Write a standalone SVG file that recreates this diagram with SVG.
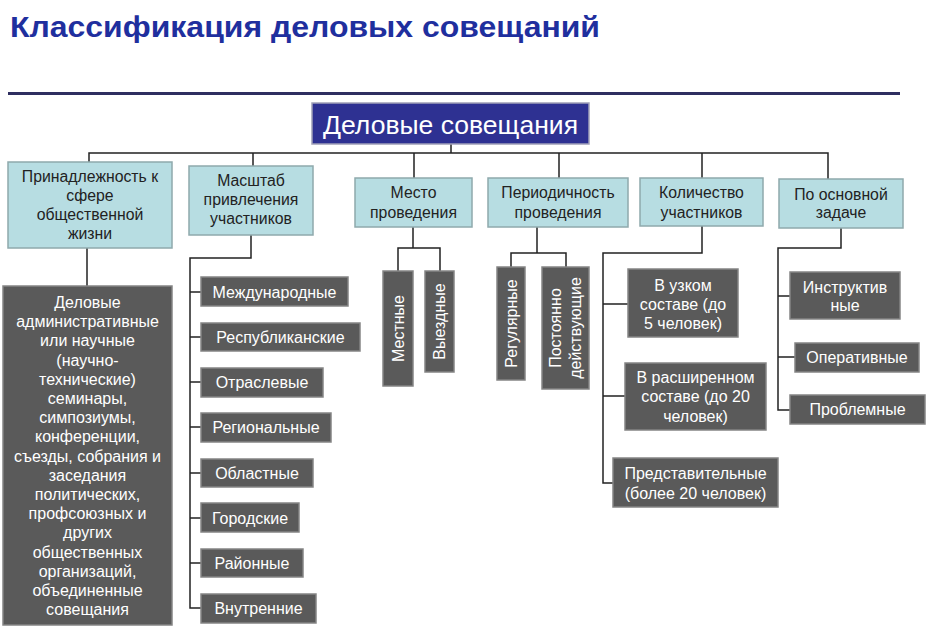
<svg xmlns="http://www.w3.org/2000/svg" width="932" height="636" viewBox="0 0 932 636">
<style>
text{font-family:"Liberation Sans",Arial,sans-serif;}
.title{font-size:30px;font-weight:bold;fill:#1f2f9e;}
.cat rect{fill:#b7dde2;stroke:#8fa9ac;stroke-width:1.5;}
.cat text{font-size:15.8px;fill:#222;text-anchor:middle;}
.item rect{fill:#5a5a5a;stroke:#858585;stroke-width:1.5;}
.item text{font-size:16px;fill:#fff;text-anchor:middle;}
.root rect{fill:#2e3192;stroke:#a0a0b8;stroke-width:1.5;}
.root text{font-size:26px;fill:#fff;text-anchor:middle;}
.conn path{fill:none;stroke:#222;stroke-width:1.5;}
</style>
<rect width="932" height="636" fill="#fff"/>
<text class="title" x="10" y="37" textLength="590" lengthAdjust="spacingAndGlyphs">Классификация деловых совещаний</text>
<rect x="8" y="92" width="892" height="3" fill="#2e2e60"/>

<g class="conn">
<path d="M451 144V153M89 162V153H828V179M253 153V166M414 153V178M559 153V178M702 153V178"/>
<path d="M87 248V286"/>
<path d="M251 235V258H190V608H201M190 292H201M190 337H201M190 382H201M190 427H201M190 473H201M190 518H201M190 563H201"/>
<path d="M413 227V248M398 271V248H440V271"/>
<path d="M537 227V253M511 267V253H566V267"/>
<path d="M702 226V253H603V483H613M603 304H628M603 396H625"/>
<path d="M841 228V248H778V410H790M778 296H790M778 357H795"/>
</g>

<g id="root" class="root">
<rect x="312" y="103" width="277" height="41"/>
<text x="450.5" y="134" textLength="255" lengthAdjust="spacingAndGlyphs">Деловые совещания</text>
</g>

<g id="cat1" class="cat">
<rect x="8" y="162" width="164" height="86"/>
<text x="90" y="182">Принадлежность к</text>
<text x="90" y="201">сфере</text>
<text x="90" y="220">общественной</text>
<text x="90" y="239">жизни</text>
</g>
<g id="cat2" class="cat">
<rect x="189" y="166" width="124" height="69"/>
<text x="251" y="186">Масштаб</text>
<text x="251" y="205">привлечения</text>
<text x="251" y="224">участников</text>
</g>
<g id="cat3" class="cat">
<rect x="355" y="178" width="117" height="49"/>
<text x="413.5" y="198">Место</text>
<text x="413.5" y="218">проведения</text>
</g>
<g id="cat4" class="cat">
<rect x="488" y="178" width="140" height="49"/>
<text x="558" y="198">Периодичность</text>
<text x="558" y="218">проведения</text>
</g>
<g id="cat5" class="cat">
<rect x="640" y="178" width="123" height="48"/>
<text x="701.5" y="198">Количество</text>
<text x="701.5" y="218">участников</text>
</g>
<g id="cat6" class="cat">
<rect x="779" y="179" width="124" height="49"/>
<text x="841" y="200">По основной</text>
<text x="841" y="218">задаче</text>
</g>

<g id="sphere" class="item">
<rect x="3" y="286" width="169" height="339"/>
<text x="87.5" y="308">Деловые</text>
<text x="87.5" y="327.2">административные</text>
<text x="87.5" y="346.4">или научные</text>
<text x="87.5" y="365.6">(научно-</text>
<text x="87.5" y="384.8">технические)</text>
<text x="87.5" y="404">семинары,</text>
<text x="87.5" y="423.2">симпозиумы,</text>
<text x="87.5" y="442.4">конференции,</text>
<text x="87.5" y="461.6">съезды, собрания и</text>
<text x="87.5" y="480.8">заседания</text>
<text x="87.5" y="500">политических,</text>
<text x="87.5" y="519.2">профсоюзных и</text>
<text x="87.5" y="538.4">других</text>
<text x="87.5" y="557.6">общественных</text>
<text x="87.5" y="576.8">организаций,</text>
<text x="87.5" y="596">объединенные</text>
<text x="87.5" y="615.2">совещания</text>
</g>

<g id="scale1" class="item"><rect x="201" y="277" width="147" height="29"/><text x="274.5" y="297.5">Международные</text></g>
<g id="scale2" class="item"><rect x="201" y="323" width="159" height="28"/><text x="280.5" y="342.5">Республиканские</text></g>
<g id="scale3" class="item"><rect x="201" y="368" width="122" height="29"/><text x="262" y="387.5">Отраслевые</text></g>
<g id="scale4" class="item"><rect x="201" y="413" width="130" height="29"/><text x="266" y="432.5">Региональные</text></g>
<g id="scale5" class="item"><rect x="201" y="459" width="112" height="28"/><text x="257" y="478.5">Областные</text></g>
<g id="scale6" class="item"><rect x="201" y="503" width="98" height="29"/><text x="250" y="523.5">Городские</text></g>
<g id="scale7" class="item"><rect x="201" y="549" width="102" height="28"/><text x="252" y="568.5">Районные</text></g>
<g id="scale8" class="item"><rect x="201" y="594" width="115" height="29"/><text x="258.5" y="613.5">Внутренние</text></g>

<g id="place1" class="item"><rect x="383" y="271" width="30" height="115"/><text transform="translate(398,328.5) rotate(-90)" x="0" y="5.5">Местные</text></g>
<g id="place2" class="item"><rect x="425" y="271" width="29" height="101"/><text transform="translate(439.5,321.5) rotate(-90)" x="0" y="5.5">Выездные</text></g>

<g id="period1" class="item"><rect x="497" y="267" width="28" height="113"/><text transform="translate(511,323.5) rotate(-90)" x="0" y="5.5">Регулярные</text></g>
<g id="period2" class="item"><rect x="542" y="267" width="47" height="122"/><text transform="translate(565.5,328) rotate(-90)" x="0" y="-4.5">Постоянно</text><text transform="translate(565.5,328) rotate(-90)" x="0" y="15.5">действующие</text></g>

<g id="count1" class="item"><rect x="628" y="269" width="110" height="68"/><text x="683" y="290.5">В узком</text><text x="683" y="309.5">составе (до</text><text x="683" y="328.5">5 человек)</text></g>
<g id="count2" class="item"><rect x="625" y="363" width="141" height="67"/><text x="695.5" y="382.5">В расширенном</text><text x="695.5" y="402">составе (до 20</text><text x="695.5" y="421.5">человек)</text></g>
<g id="count3" class="item"><rect x="613" y="458" width="165" height="49"/><text x="695.5" y="478.5">Представительные</text><text x="695.5" y="498.5">(более 20 человек)</text></g>

<g id="task1" class="item"><rect x="790" y="272" width="110" height="47"/><text x="845" y="292.5">Инструктив</text><text x="845" y="310.5">ные</text></g>
<g id="task2" class="item"><rect x="795" y="343" width="124" height="29"/><text x="857" y="363">Оперативные</text></g>
<g id="task3" class="item"><rect x="790" y="395" width="135" height="29"/><text x="857.5" y="415">Проблемные</text></g>
</svg>
